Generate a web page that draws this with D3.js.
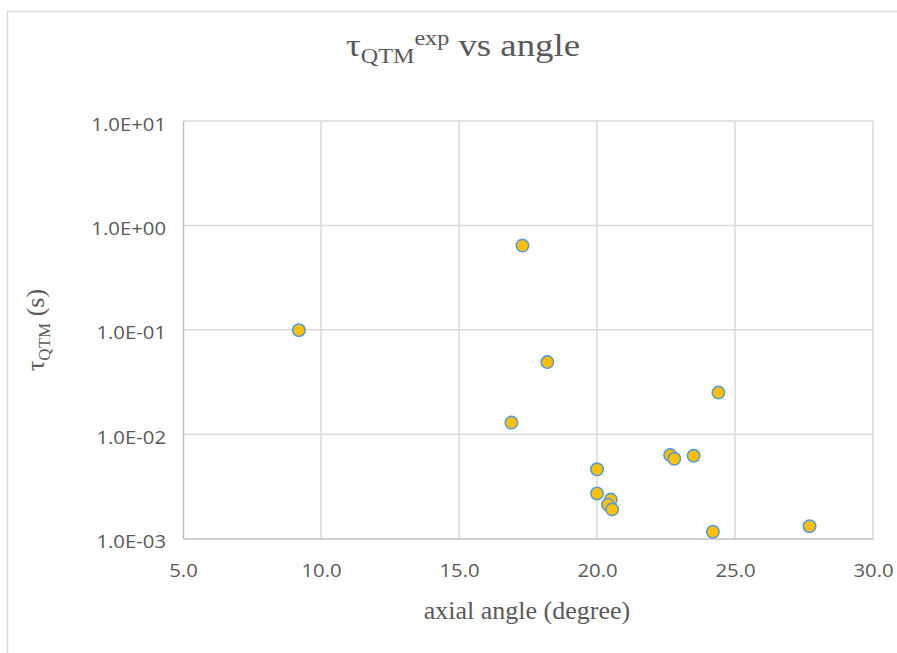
<!DOCTYPE html>
<html>
<head>
<meta charset="utf-8">
<script src="https://cdn.jsdelivr.net/npm/d3@7"></script>
<style>
  body { margin: 0; background: #fff; }
  svg { display: block; }
</style>
</head>
<body>
<svg width="897" height="653"></svg>
<script>
// axial angle (degree) and tau_QTM (s)
const angle = [9.2, 17.3, 18.2, 16.9, 20.0, 20.0, 20.5, 20.4, 20.55, 24.4, 22.65, 22.8, 23.5, 24.2, 27.7];
const tau   = [0.099, 0.64, 0.049, 0.0129, 0.0046, 0.0027, 0.00236, 0.00211, 0.0019, 0.025, 0.0063, 0.0058, 0.0062, 0.00116, 0.00131];

const xTicks = [5, 10, 15, 20, 25, 30];
const xTickLabels = ["5.0", "10.0", "15.0", "20.0", "25.0", "30.0"];
const yTicks = [0.001, 0.01, 0.1, 1, 10];
const yTickLabels = ["1.0E-03", "1.0E-02", "1.0E-01", "1.0E+00", "1.0E+01"];

const svg = d3.select("svg");
const plotL = 183, plotR = 873, plotT = 121, plotB = 538.5;
const textColor = "#595959";

// outer chart frame
svg.append("rect")
  .attr("x", 7.5).attr("y", 11.5)
  .attr("width", 1000).attr("height", 1000)
  .attr("fill", "none").attr("stroke", "#d9d9d9").attr("stroke-width", 1.5);

const x = d3.scaleLinear().domain([5, 30]).range([plotL, plotR]);
const y = d3.scaleLog().domain([0.001, 10]).range([plotB, plotT]);

// grid
svg.append("g").selectAll("line")
  .data(xTicks.slice(1))
  .enter().append("line")
  .attr("x1", d => x(d)).attr("x2", d => x(d))
  .attr("y1", plotT).attr("y2", plotB)
  .attr("stroke", "#d9d9d9").attr("stroke-width", 1.5);

svg.append("g").selectAll("line")
  .data(yTicks.slice(1))
  .enter().append("line")
  .attr("x1", plotL).attr("x2", plotR)
  .attr("y1", d => y(d)).attr("y2", d => y(d))
  .attr("stroke", "#d9d9d9").attr("stroke-width", 1.5);

// axes
const xAxis = svg.append("g")
  .attr("transform", `translate(0,${plotB})`)
  .call(d3.axisBottom(x).tickValues(xTicks).tickSize(0)
    .tickFormat((d, i) => xTickLabels[i]));
xAxis.select(".domain").attr("stroke", "#bfbfbf").attr("stroke-width", 1.5);
xAxis.selectAll("text")
  .attr("y", 38.5).attr("dy", 0)
  .attr("transform", "scale(1.13,1)")
  .style("font-family", "'Open Sans'").style("font-size", "18px")
  .attr("fill", textColor);

const yAxis = svg.append("g")
  .attr("transform", `translate(${plotL},0)`)
  .call(d3.axisLeft(y).tickValues(yTicks).tickSize(0)
    .tickFormat((d, i) => yTickLabels[i]));
yAxis.select(".domain").attr("stroke", "#bfbfbf").attr("stroke-width", 1.5);
yAxis.selectAll("text")
  .attr("x", -15).attr("y", 9).attr("dy", 0)
  .attr("transform", "scale(1.13,1)")
  .style("font-family", "'Open Sans'").style("font-size", "18px")
  .attr("fill", textColor);

// points
svg.append("g").selectAll("circle")
  .data(angle)
  .enter().append("circle")
  .attr("cx", d => x(d))
  .attr("cy", (d, i) => y(tau[i]))
  .attr("r", 6.2)
  .attr("fill", "#ffc000")
  .attr("stroke", "#5b9bd5")
  .attr("stroke-width", 1.6);

// title
const title = svg.append("text")
  .attr("transform", "translate(463,56) scale(1.15,1)")
  .attr("text-anchor", "middle")
  .style("font-family", "'Liberation Serif'")
  .style("font-size", "32px")
  .attr("fill", textColor);
title.append("tspan").text("τ");
title.append("tspan").attr("dy", 7).style("font-size", "21px").text("QTM");
title.append("tspan").attr("dy", -18).style("font-size", "21px").text("exp");
title.append("tspan").attr("dy", 11).text(" vs angle");

// axis titles
svg.append("text")
  .attr("x", 527).attr("y", 619)
  .attr("text-anchor", "middle")
  .style("font-family", "'Liberation Serif'")
  .style("font-size", "26px")
  .attr("fill", textColor)
  .text("axial angle (degree)");

const yTitle = svg.append("text")
  .attr("transform", "translate(44,330) rotate(-90)")
  .attr("text-anchor", "middle")
  .style("font-family", "'Liberation Serif'")
  .style("font-size", "26px")
  .attr("fill", textColor);
yTitle.append("tspan").text("τ");
yTitle.append("tspan").attr("dy", 6).style("font-size", "17px").text("QTM");
yTitle.append("tspan").attr("dy", -6).text(" (s)");
</script>
</body>
</html>
